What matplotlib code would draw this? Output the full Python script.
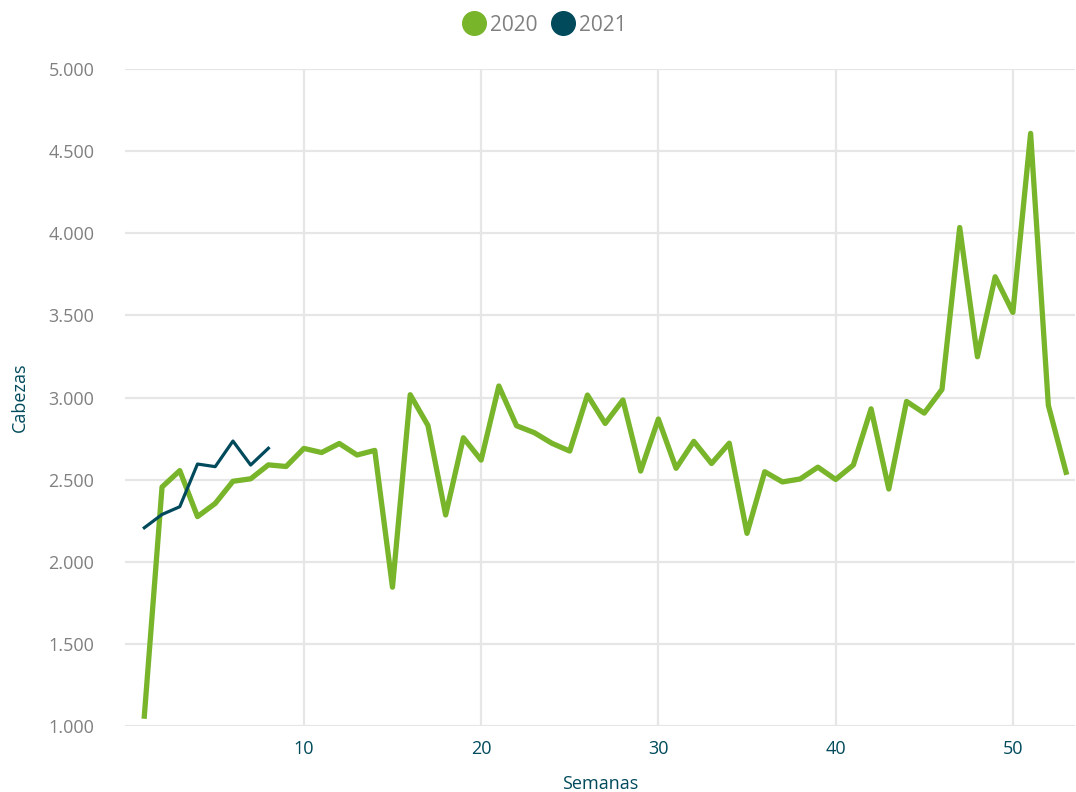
import matplotlib.pyplot as plt
from matplotlib.lines import Line2D
from matplotlib.ticker import FuncFormatter
import numpy as np

plt.rcParams['font.family'] = ['Open Sans', 'DejaVu Sans']

# weekly head counts
semanas_2020 = np.arange(1, 54)
cabezas_2020 = [1060, 2455, 2555, 2275, 2355, 2490, 2505, 2590, 2580, 2690,
                2665, 2720, 2650, 2678, 1845, 3017, 2830, 2285, 2755, 2619,
                3070, 2828, 2786, 2721, 2674, 3015, 2842, 2985, 2552, 2869,
                2569, 2733, 2598, 2722, 2173, 2548, 2486, 2504, 2576, 2501,
                2589, 2931, 2443, 2976, 2905, 3049, 4035, 3248, 3735, 3518,
                4608, 2953, 2545]
semanas_2021 = np.arange(1, 9)
cabezas_2021 = [2207, 2288, 2335, 2595, 2579, 2735, 2589, 2691]

verde = '#78B52A'
azul = '#004A5C'
gris = '#808080'

fig = plt.figure(figsize=(10.76, 7.92), dpi=100)
ax = fig.add_axes([0.116, 0.0833, 0.883, 0.8296])

ax.plot(semanas_2020, cabezas_2020, color=verde, lw=3.8, solid_joinstyle='round', zorder=3)
ax.plot(semanas_2021, cabezas_2021, color=azul, lw=2.3, solid_joinstyle='round', zorder=4)

ax.set_xlim(-0.1, 53.5)
ax.set_ylim(1000, 5000)
ax.set_xticks([10, 20, 30, 40, 50])
ax.set_yticks(np.arange(1000, 5001, 500))
ax.yaxis.set_major_formatter(FuncFormatter(lambda v, p: f'{int(v):,}'.replace(',', '.')))
ax.grid(True, color='#e6e6e6', lw=1.6, zorder=0)
ax.set_axisbelow(True)
for s in ax.spines.values():
    s.set_visible(False)
ax.tick_params(length=0)
ax.tick_params(axis='y', labelsize=13, labelcolor=gris, pad=22)
ax.tick_params(axis='x', labelsize=13, labelcolor=azul, pad=10)
ax.set_xlabel('Semanas', fontsize=13, color=azul, labelpad=12)
ax.set_ylabel('Cabezas', fontsize=13, color=azul, labelpad=14)

handles = [Line2D([], [], ls='none', marker='o', ms=17, color=verde, label='2020'),
           Line2D([], [], ls='none', marker='o', ms=17, color=azul, label='2021')]
leg = fig.legend(handles=handles, loc='upper center', bbox_to_anchor=(0.508, 1.005), ncol=2,
                 frameon=False, fontsize=15, handlelength=0.7, handletextpad=0.4,
                 columnspacing=0.9)
for t in leg.get_texts():
    t.set_color(gris)

fig.savefig('out.png', dpi=100)
